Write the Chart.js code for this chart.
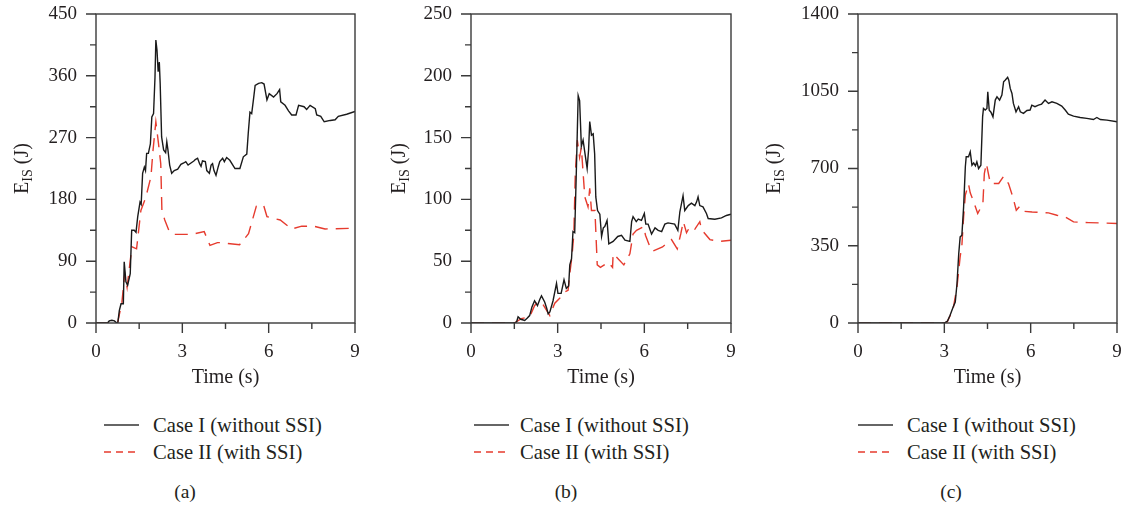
<!DOCTYPE html>
<html><head><meta charset="utf-8">
<script src="https://cdn.jsdelivr.net/npm/chart.js@4.4.1/dist/chart.umd.min.js"></script>
<style>
body{margin:0;background:#fff;}
#wrap{position:relative;width:1122px;height:507px;overflow:hidden;background:#fff;font-family:"Liberation Serif",serif;color:#231f20;}
canvas{position:absolute;top:0;}
.lg{position:absolute;font-size:20.6px;line-height:22px;white-space:nowrap;}
.cap{position:absolute;font-size:19.5px;line-height:22px;white-space:nowrap;transform:translateX(-50%);}
svg{position:absolute;overflow:visible;}
</style></head><body><div id="wrap">
<canvas id="ca" width="370" height="400" style="left:0px"></canvas>
<canvas id="cb" width="370" height="400" style="left:375px"></canvas>
<canvas id="cc" width="372" height="400" style="left:750px"></canvas>
</div>
<script>
// ---------- data ----------
const seriesNames = ["Case I (without SSI)", "Case II (with SSI)"];
const panelLabels = ["(a)", "(b)", "(c)"];
const xTicks = [0, 3, 6, 9];
const xMinorTicks = [1.5, 4.5, 7.5];
const yTicksA = [0, 90, 180, 270, 360, 450];
const yMinorA = [45, 135, 225, 315, 405];
const yTicksB = [0, 50, 100, 150, 200, 250];
const yMinorB = [25, 75, 125, 175, 225];
const yTicksC = [0, 350, 700, 1050, 1400];
const yMinorC = [175, 525, 875, 1225];

const timeA1 = [0,0.4,0.46,0.55,0.64,0.72,0.76,0.81,0.87,0.95,0.98,1.04,1.1,1.19,1.24,1.33,1.39,1.45,1.53,1.57,1.62,1.68,1.72,1.76,1.82,1.89,1.94,2.0,2.05,2.08,2.12,2.16,2.2,2.23,2.28,2.35,2.42,2.46,2.5,2.56,2.63,2.72,2.84,2.95,3.05,3.12,3.2,3.3,3.4,3.45,3.53,3.6,3.65,3.7,3.8,3.85,3.94,4.0,4.05,4.1,4.17,4.25,4.3,4.4,4.46,4.54,4.65,4.83,5.0,5.12,5.24,5.29,5.35,5.41,5.47,5.53,5.65,5.76,5.84,5.94,6.02,6.17,6.29,6.38,6.42,6.57,6.69,6.8,6.95,7.04,7.23,7.32,7.44,7.62,7.67,7.81,7.93,8.14,8.31,8.42,8.71,9.0];
const energyA1 = [0,0,3,4,3,0,1,18,28,28,89,60,55,72,135,135,132,155,176,173,218,227,222,247,247,261,300,305,358,412,397,366,380,349,271,252,248,264,252,230,218,222,224,231,233,235,230,233,236,238,240,232,228,236,235,222,218,230,232,222,215,228,235,240,235,241,237,225,225,242,246,276,307,305,325,346,349,350,348,325,334,329,334,340,322,317,309,303,303,317,315,311,317,312,303,301,293,295,296,301,304,308];
const timeA2 = [0,0.75,0.9,1.0,1.08,1.19,1.25,1.41,1.56,1.73,1.91,1.98,2.08,2.17,2.25,2.29,2.39,2.55,2.72,3.3,3.76,3.96,4.22,4.32,4.99,5.3,5.57,5.82,5.94,6.4,6.8,7.15,7.56,7.96,9.0];
const energyA2 = [0,0,30,72,52,91,111,108,164,183,213,251,293,262,232,164,150,133,129,129,133,113,117,117,114,130,170,172,155,150,137,141,141,137,138];

const timeB1 = [0,1.5,1.58,1.63,1.72,1.86,1.95,2.03,2.11,2.2,2.3,2.38,2.44,2.55,2.62,2.67,2.73,2.84,2.96,3.01,3.12,3.22,3.3,3.38,3.42,3.48,3.53,3.59,3.65,3.71,3.76,3.82,3.88,3.94,4.02,4.07,4.11,4.17,4.23,4.28,4.32,4.38,4.46,4.52,4.58,4.63,4.71,4.77,4.92,5.08,5.21,5.33,5.5,5.56,5.61,5.72,5.79,5.9,6.0,6.05,6.13,6.25,6.37,6.48,6.6,6.71,6.82,7.05,7.16,7.23,7.34,7.4,7.52,7.63,7.75,7.81,7.86,7.92,8.03,8.15,8.21,8.44,8.67,8.84,9.0];
const energyB1 = [0,0,1,5,3,2,4,6,13,18,14,19,22,17,12,7.5,9,18,32,24,24,35,28,30,47,52,74,73,126,184,180,143,148,138,125,140,163,152,153,137,102,91,88,70,77,78,83,64,66,70,71,67,66,82,86,82,84,83,88.6,80,80,72,77,75,74,80,81,80,75,90,103,91,95,97,95,98,102,95,94,88.6,84.5,84,85,87,88];
const timeB2 = [0,1.5,1.74,2.03,2.2,2.3,2.44,2.73,2.9,3.07,3.24,3.36,3.42,3.5,3.56,3.61,3.68,3.76,3.82,3.9,3.94,4.05,4.11,4.17,4.29,4.37,4.48,4.75,4.9,4.92,5.09,5.29,5.5,5.61,5.73,5.98,6.04,6.17,6.28,6.63,6.83,6.94,7.14,7.26,7.35,7.46,7.58,7.75,7.92,7.98,8.27,8.59,9.0];
const energyB2 = [0,0,3.5,5,14,17,17,6,16,20,25,26.5,40,55,72,121,148,134,142,115,102,94,109,91,91,47,45,49,45,56,52,47,56,72,75,78,71,63,58,61.5,65.6,67.5,60,72,82,73,78,76,82,75.6,67.5,66,67];

const timeC1 = [0,3.0,3.11,3.2,3.3,3.38,3.44,3.5,3.55,3.61,3.67,3.73,3.76,3.84,3.9,3.96,4.02,4.08,4.13,4.19,4.27,4.33,4.36,4.42,4.48,4.51,4.56,4.62,4.69,4.77,4.83,4.92,5.0,5.06,5.12,5.2,5.24,5.29,5.35,5.4,5.49,5.58,5.64,5.75,5.87,5.98,6.04,6.15,6.27,6.38,6.5,6.62,6.74,6.91,7.08,7.2,7.31,7.49,7.72,7.95,8.18,8.3,8.42,8.65,9.0];
const energyC1 = [0,0,9,35,70,95,178,314,390,398,526,708,753,753,776,715,725,712,730,700,715,934,972,965,972,1048,964,955,934,1010,1025,1010,1033,1093,1101,1113,1100,1063,1040,995,957,980,957,950,963,965,987,980,987,992,1010,995,1002,995,983,965,946,937,931,927,922,931,922,919,912];
const timeC2 = [0,3.0,3.1,3.3,3.44,3.55,3.61,3.67,3.73,3.84,3.9,4.02,4.16,4.34,4.39,4.46,4.6,4.89,5.06,5.23,5.38,5.5,5.62,5.75,6.05,6.62,6.91,7.2,7.49,8.01,8.54,9.0];
const energyC2 = [0,0,5,60,163,300,352,480,580,629,590,549,496,541,677,723,632,632,665,632,571,511,529,506,503,499,488,481,458,455,453,451];

// ---------- drawing ----------
const FONT = '"Liberation Serif", "Times New Roman", serif';
const INK = '#231f20';
const RED = '#e63b2e';
const zip = (t, e) => t.map((v, i) => ({x: v, y: e[i]}));
const noPad = s => { s.paddingTop = 0; s.paddingBottom = 0; s.paddingLeft = 0; s.paddingRight = 0; };

const framePlugin = {
  id: 'frame',
  afterDraw(chart, args, o) {
    const {ctx, chartArea: {left, right, top, bottom}, scales: {x, y}} = chart;
    ctx.save();
    ctx.strokeStyle = '#3a3a3a';
    ctx.lineWidth = 1.4;
    ctx.strokeRect(left, top, right - left, bottom - top);
    ctx.beginPath();
    o.yMajor.forEach(v => { const p = y.getPixelForValue(v); ctx.moveTo(left - 10, p); ctx.lineTo(left, p); });
    o.yMinor.forEach(v => { const p = y.getPixelForValue(v); ctx.moveTo(left - 6, p); ctx.lineTo(left, p); });
    xTicks.forEach(v => { const p = x.getPixelForValue(v); ctx.moveTo(p, bottom); ctx.lineTo(p, bottom + 10); });
    xMinorTicks.forEach(v => { const p = x.getPixelForValue(v); ctx.moveTo(p, bottom); ctx.lineTo(p, bottom + 6); });
    ctx.stroke();
    // x title
    ctx.fillStyle = INK;
    ctx.font = '20px ' + FONT;
    ctx.textAlign = 'center';
    ctx.textBaseline = 'alphabetic';
    ctx.fillText('Time (s)', (left + right) / 2, 383);
    // y title  E_IS (J)
    ctx.translate(o.titleX, (top + bottom) / 2);
    ctx.rotate(-Math.PI / 2);
    ctx.textAlign = 'left';
    const big = '20px ' + FONT, small = '14px ' + FONT;
    ctx.font = big; const wE = ctx.measureText('E').width; const wR = ctx.measureText(' (J)').width;
    ctx.font = small; const wS = ctx.measureText('IS').width;
    let sx = -(wE + wS + wR) / 2;
    ctx.font = big; ctx.fillText('E', sx, 0); sx += wE;
    ctx.font = small; ctx.fillText('IS', sx, 4); sx += wS;
    ctx.font = big; ctx.fillText(' (J)', sx, 0);
    ctx.restore();
  }
};

function makeChart(id, cfg) {
  new Chart(document.getElementById(id), {
    type: 'line',
    data: {
      datasets: [
        {label: seriesNames[0], data: zip(cfg.t1, cfg.e1), borderColor: '#1a1a1a', borderWidth: 1.4, pointRadius: 0, tension: 0},
        {label: seriesNames[1], data: zip(cfg.t2, cfg.e2), borderColor: RED, borderWidth: 1.4, borderDash: [13, 8], pointRadius: 0, tension: 0}
      ]
    },
    options: {
      responsive: false, animation: false, devicePixelRatio: 1,
      layout: {padding: {top: 14, right: cfg.padRight, left: 0, bottom: 0}},
      plugins: {legend: {display: false}, tooltip: {enabled: false},
        frame: {yMajor: cfg.yMajor, yMinor: cfg.yMinor, titleX: cfg.titleX}},
      scales: {
        x: {type: 'linear', min: 0, max: 9,
          grid: {display: false, drawTicks: false}, border: {display: false},
          afterBuildTicks: s => { s.ticks = xTicks.map(v => ({value: v})); },
          afterFit: s => { s.height = 77; noPad(s); },
          ticks: {font: {family: FONT, size: 19}, color: INK, padding: 18, maxRotation: 0, callback: v => String(v)}},
        y: {type: 'linear', min: 0, max: cfg.yMajor[cfg.yMajor.length - 1],
          grid: {display: false, drawTicks: false}, border: {display: false},
          afterBuildTicks: s => { s.ticks = cfg.yMajor.map(v => ({value: v})); },
          afterFit: s => { s.width = cfg.plotLeft; noPad(s); },
          ticks: {font: {family: FONT, size: 19}, color: INK, padding: 19, callback: v => String(v)}}
      }
    },
    plugins: [framePlugin]
  });
}

makeChart('ca', {t1: timeA1, e1: energyA1, t2: timeA2, e2: energyA2, yMajor: yTicksA, yMinor: yMinorA, plotLeft: 96, padRight: 15, titleX: 28});
makeChart('cb', {t1: timeB1, e1: energyB1, t2: timeB2, e2: energyB2, yMajor: yTicksB, yMinor: yMinorB, plotLeft: 96, padRight: 14, titleX: 30});
makeChart('cc', {t1: timeC1, e1: energyC1, t2: timeC2, e2: energyC2, yMajor: yTicksC, yMinor: yMinorC, plotLeft: 108, padRight: 5, titleX: 30});

// ---------- legends ----------
const wrap = document.getElementById('wrap');
const legendPos = [{line: 104, text: 153, cap: 185}, {line: 474, text: 520, cap: 566}, {line: 858, text: 907, cap: 951}];
legendPos.forEach((p, i) => {
  const svg = document.createElementNS('http://www.w3.org/2000/svg', 'svg');
  svg.setAttribute('width', 40); svg.setAttribute('height', 40);
  svg.style.left = p.line + 'px'; svg.style.top = '415px';
  svg.innerHTML = '<line x1="0" y1="10" x2="35" y2="10" stroke="#333" stroke-width="1.4"/>' +
    '<line x1="0" y1="37" x2="35" y2="37" stroke="' + RED + '" stroke-width="1.4" stroke-dasharray="7,5"/>';
  wrap.appendChild(svg);
  seriesNames.forEach((n, k) => {
    const d = document.createElement('div');
    d.className = 'lg'; d.textContent = n;
    d.style.left = p.text + 'px'; d.style.top = (414 + k * 27) + 'px';
    wrap.appendChild(d);
  });
  const c = document.createElement('div');
  c.className = 'cap'; c.textContent = panelLabels[i];
  c.style.left = p.cap + 'px'; c.style.top = '481px';
  wrap.appendChild(c);
});
</script></body></html>
